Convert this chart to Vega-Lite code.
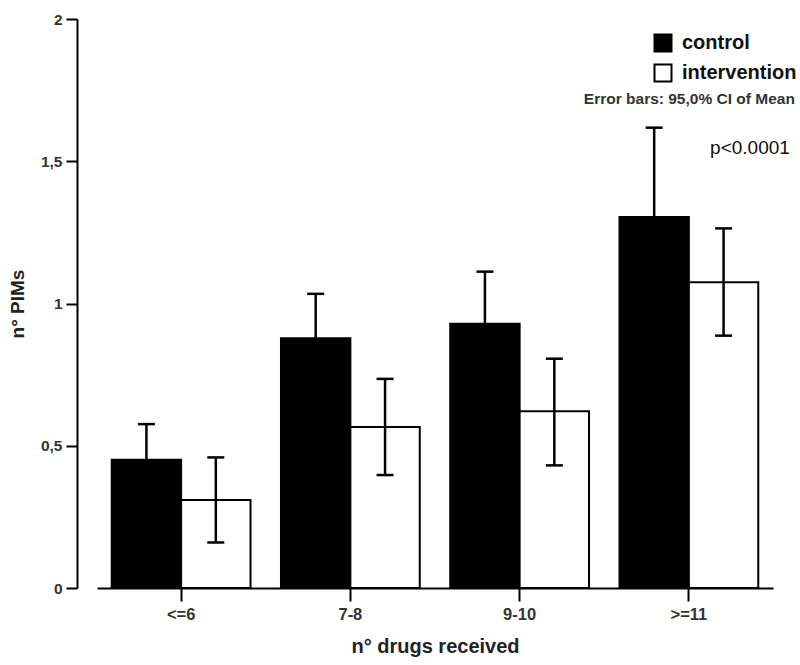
{
  "$schema": "https://vega.github.io/schema/vega-lite/v6.json",
  "autosize": {"type": "none"},
  "padding": {"left": 97, "top": 19, "right": 27, "bottom": 77},
  "width": 676,
  "height": 569,
  "background": "white",
  "config": {"view": {"stroke": null}, "font": "Liberation Sans"},
  "data": {
    "values": [
      {"drug": "<=6", "group": "control", "mean": 0.451, "lo": 0.326, "hi": 0.576},
      {"drug": "<=6", "group": "intervention", "mean": 0.309, "lo": 0.160, "hi": 0.459},
      {"drug": "7-8", "group": "control", "mean": 0.878, "lo": 0.722, "hi": 1.034},
      {"drug": "7-8", "group": "intervention", "mean": 0.566, "lo": 0.397, "hi": 0.735},
      {"drug": "9-10", "group": "control", "mean": 0.929, "lo": 0.746, "hi": 1.112},
      {"drug": "9-10", "group": "intervention", "mean": 0.621, "lo": 0.431, "hi": 0.806},
      {"drug": ">=11", "group": "control", "mean": 1.304, "lo": 0.990, "hi": 1.618},
      {"drug": ">=11", "group": "intervention", "mean": 1.075, "lo": 0.887, "hi": 1.264}
    ]
  },
  "layer": [
    {
      "mark": {"type": "bar", "stroke": "black", "strokeWidth": 2},
      "encoding": {
        "x": {
          "field": "drug", "type": "nominal",
          "sort": ["<=6", "7-8", "9-10", ">=11"],
          "scale": {"paddingInner": 0.18, "paddingOuter": 0.087},
          "title": "n° drugs received",
          "axis": {
            "labelAngle": 0, "domainColor": "black", "domainWidth": 2,
            "tickColor": "black", "tickWidth": 2, "tickSize": 13,
            "labelFontSize": 16.5, "labelFontWeight": "bold", "labelColor": "#333", "labelPadding": 5,
            "titleFontSize": 20, "titleColor": "#222", "titleFontWeight": "bold", "titlePadding": 14
          }
        },
        "xOffset": {"field": "group", "type": "nominal", "sort": ["control", "intervention"], "scale": {"paddingInner": 0, "paddingOuter": 0}},
        "y": {
          "field": "mean", "type": "quantitative",
          "scale": {"domain": [0, 2]},
          "title": "n° PIMs",
          "axis": {
            "values": [0, 0.5, 1, 1.5, 2],
            "labelExpr": "replace(format(datum.value, ''), '.', ',')",
            "offset": 20, "grid": false,
            "domainColor": "black", "domainWidth": 2,
            "tickColor": "black", "tickWidth": 2, "tickSize": 11,
            "labelFontSize": 15.5, "labelColor": "#333", "labelFontWeight": "bold", "labelPadding": 4,
            "titleFontSize": 19, "titleColor": "#222", "titleFontWeight": "bold", "titlePadding": 13
          }
        },
        "fill": {
          "field": "group", "type": "nominal",
          "scale": {"domain": ["control", "intervention"], "range": ["#000000", "#ffffff"]},
          "legend": {
            "orient": "none", "legendX": 556, "legendY": 14, "title": null, "padding": 0,
            "symbolType": "square", "symbolSize": 289, "symbolStrokeColor": "black", "symbolStrokeWidth": 2,
            "labelFontSize": 20, "labelFontWeight": "bold", "labelColor": "#111", "labelOffset": 9, "rowPadding": 4
          }
        }
      }
    },
    {
      "mark": {"type": "rule", "color": "black", "strokeWidth": 2.5},
      "encoding": {
        "x": {"field": "drug", "type": "nominal", "sort": ["<=6", "7-8", "9-10", ">=11"]},
        "xOffset": {"field": "group", "type": "nominal", "sort": ["control", "intervention"]},
        "y": {"field": "lo", "type": "quantitative"},
        "y2": {"field": "hi"}
      }
    },
    {
      "mark": {"type": "tick", "color": "black", "opacity": 1, "thickness": 2.5, "size": 17},
      "encoding": {
        "x": {"field": "drug", "type": "nominal", "sort": ["<=6", "7-8", "9-10", ">=11"]},
        "xOffset": {"field": "group", "type": "nominal", "sort": ["control", "intervention"]},
        "y": {"field": "hi", "type": "quantitative"}
      }
    },
    {
      "mark": {"type": "tick", "color": "black", "opacity": 1, "thickness": 2.5, "size": 17},
      "encoding": {
        "x": {"field": "drug", "type": "nominal", "sort": ["<=6", "7-8", "9-10", ">=11"]},
        "xOffset": {"field": "group", "type": "nominal", "sort": ["control", "intervention"]},
        "y": {"field": "lo", "type": "quantitative"}
      }
    },
    {
      "data": {"values": [{"note": "Error bars: 95,0% CI of Mean"}]},
      "mark": {"type": "text", "align": "right", "baseline": "middle", "dx": 106, "fontSize": 15.5, "fontWeight": "bold", "color": "#333"},
      "encoding": {
        "x": {"datum": ">=11"},
        "y": {"datum": 1.72},
        "text": {"field": "note"}
      }
    },
    {
      "data": {"values": [{"note": "p<0.0001"}]},
      "mark": {"type": "text", "align": "right", "baseline": "middle", "dx": 101, "fontSize": 19, "color": "#111"},
      "encoding": {
        "x": {"datum": ">=11"},
        "y": {"datum": 1.547},
        "text": {"field": "note"}
      }
    }
  ]
}
